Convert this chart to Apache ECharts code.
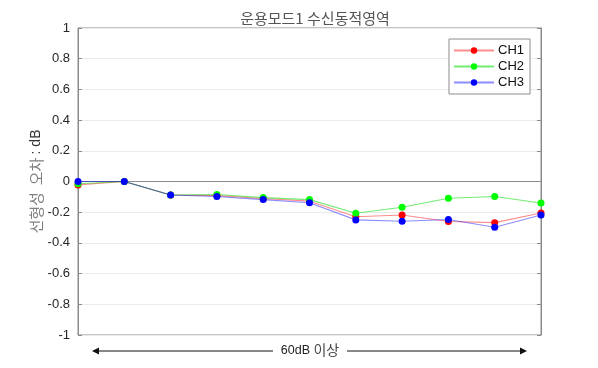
<!DOCTYPE html>
<html>
<head>
<meta charset="utf-8">
<script src="https://cdn.jsdelivr.net/npm/echarts@6/dist/echarts.min.js"></script>
<style>html,body{margin:0;padding:0;background:#fff}#c{width:598px;height:368px}</style>
</head>
<body>
<div id="c"></div>
<script>
const categories = ['1','2','3','4','5','6','7','8','9','10','11'];
const ch1 = [-0.022, 0, -0.088, -0.092, -0.111, -0.128, -0.230, -0.218, -0.261, -0.268, -0.205];
const ch2 = [-0.015, 0, -0.088, -0.085, -0.105, -0.118, -0.207, -0.168, -0.109, -0.098, -0.140];
const ch3 = [0, 0, -0.088, -0.098, -0.118, -0.138, -0.250, -0.259, -0.248, -0.298, -0.218];
const seriesNames = ['CH1', 'CH2', 'CH3'];
const yTicks = {min: -1, max: 1, interval: 0.2};

const chart = echarts.init(document.getElementById('c'));
const font = '"Liberation Sans", Arial, "Noto Sans CJK KR", sans-serif';
const axisGray = '#8a8a8a';
function mk(name, data, solid, line) {
  return {
    name: name, type: 'line', data: data,
    symbol: 'circle', symbolSize: 7, showSymbol: true,
    itemStyle: {color: solid},
    lineStyle: {color: line, width: 1.1},
    emphasis: {disabled: true},
    animation: false
  };
}
chart.setOption({
  animation: false,
  textStyle: {fontFamily: font},
  title: {
    text: '운용모드1 수신동적영역', left: 310, top: 6, textAlign: 'center',
    textStyle: {fontSize: 15, fontWeight: 'normal', color: '#555', fontFamily: '"Noto Sans CJK KR", sans-serif'}
  },
  grid: {left: 78, right: 57, top: 28, bottom: 33, show: true, borderColor: axisGray, borderWidth: 1},
  legend: {
    orient: 'vertical', right: 68, top: 39, width: 76,
    data: seriesNames,
    itemWidth: 40, itemHeight: 8, itemGap: 3,
    padding: [5, 6, 5, 4],
    borderColor: '#8c8c8c', borderWidth: 1, backgroundColor: '#fff',
    textStyle: {fontSize: 13, color: '#111', fontFamily: font, padding: [0, 0, 0, -1]}
  },
  xAxis: {
    type: 'category', data: categories, boundaryGap: false,
    axisLine: {show: true, lineStyle: {color: axisGray}},
    axisTick: {show: false}, axisLabel: {show: false}, splitLine: {show: false}
  },
  yAxis: [{
    type: 'value', min: yTicks.min, max: yTicks.max, interval: yTicks.interval,
    axisLine: {show: true, lineStyle: {color: axisGray}},
    axisTick: {show: true, inside: true, length: 4, lineStyle: {color: axisGray}},
    axisLabel: {fontSize: 13, color: '#262626', margin: 8, fontFamily: font,
      formatter: v => String(Math.round(v * 10) / 10)},
    splitLine: {show: true, lineStyle: {color: '#ebebeb'}},
    name: '{g|선형성  오차} {b|: dB}', nameLocation: 'middle', nameGap: 34, nameRotate: 90,
    nameMoveOverlap: false,
    nameTextStyle: {rich: {
      g: {fontSize: 15, color: '#808080', fontFamily: '"Noto Sans CJK KR", sans-serif'},
      b: {fontSize: 14, color: '#333', fontFamily: font}
    }}
  }, {
    type: 'value', position: 'right', min: yTicks.min, max: yTicks.max, interval: yTicks.interval,
    axisLine: {show: true, lineStyle: {color: axisGray}},
    axisTick: {show: true, inside: true, length: 4, lineStyle: {color: axisGray}},
    axisLabel: {show: false}, splitLine: {show: false}
  }],
  series: [
    mk('CH1', ch1, '#ff0000', 'rgba(255,0,0,0.45)'),
    mk('CH2', ch2, '#00ff00', 'rgba(0,220,0,0.55)'),
    mk('CH3', ch3, '#0000ff', 'rgba(0,0,255,0.45)')
  ],
  graphic: [
    {type: 'line', shape: {x1: 96, y1: 351, x2: 273, y2: 351}, style: {stroke: '#111', lineWidth: 1}},
    {type: 'line', shape: {x1: 347, y1: 351, x2: 522, y2: 351}, style: {stroke: '#111', lineWidth: 1}},
    {type: 'polygon', shape: {points: [[92, 351], [99, 347.5], [99, 354.5]]}, style: {fill: '#111'}},
    {type: 'polygon', shape: {points: [[527, 351], [520, 347.5], [520, 354.5]]}, style: {fill: '#111'}},
    {type: 'text', x: 310, y: 351, style: {
      text: '{a|60dB} {k|이상}', align: 'center', verticalAlign: 'middle',
      rich: {
        a: {fontSize: 12.5, fill: '#222', fontFamily: font},
        k: {fontSize: 14, fill: '#444', fontFamily: '"Noto Sans CJK KR", sans-serif', padding: [0, 0, 3, 0]}
      }
    }}
  ]
});
</script>
</body>
</html>
